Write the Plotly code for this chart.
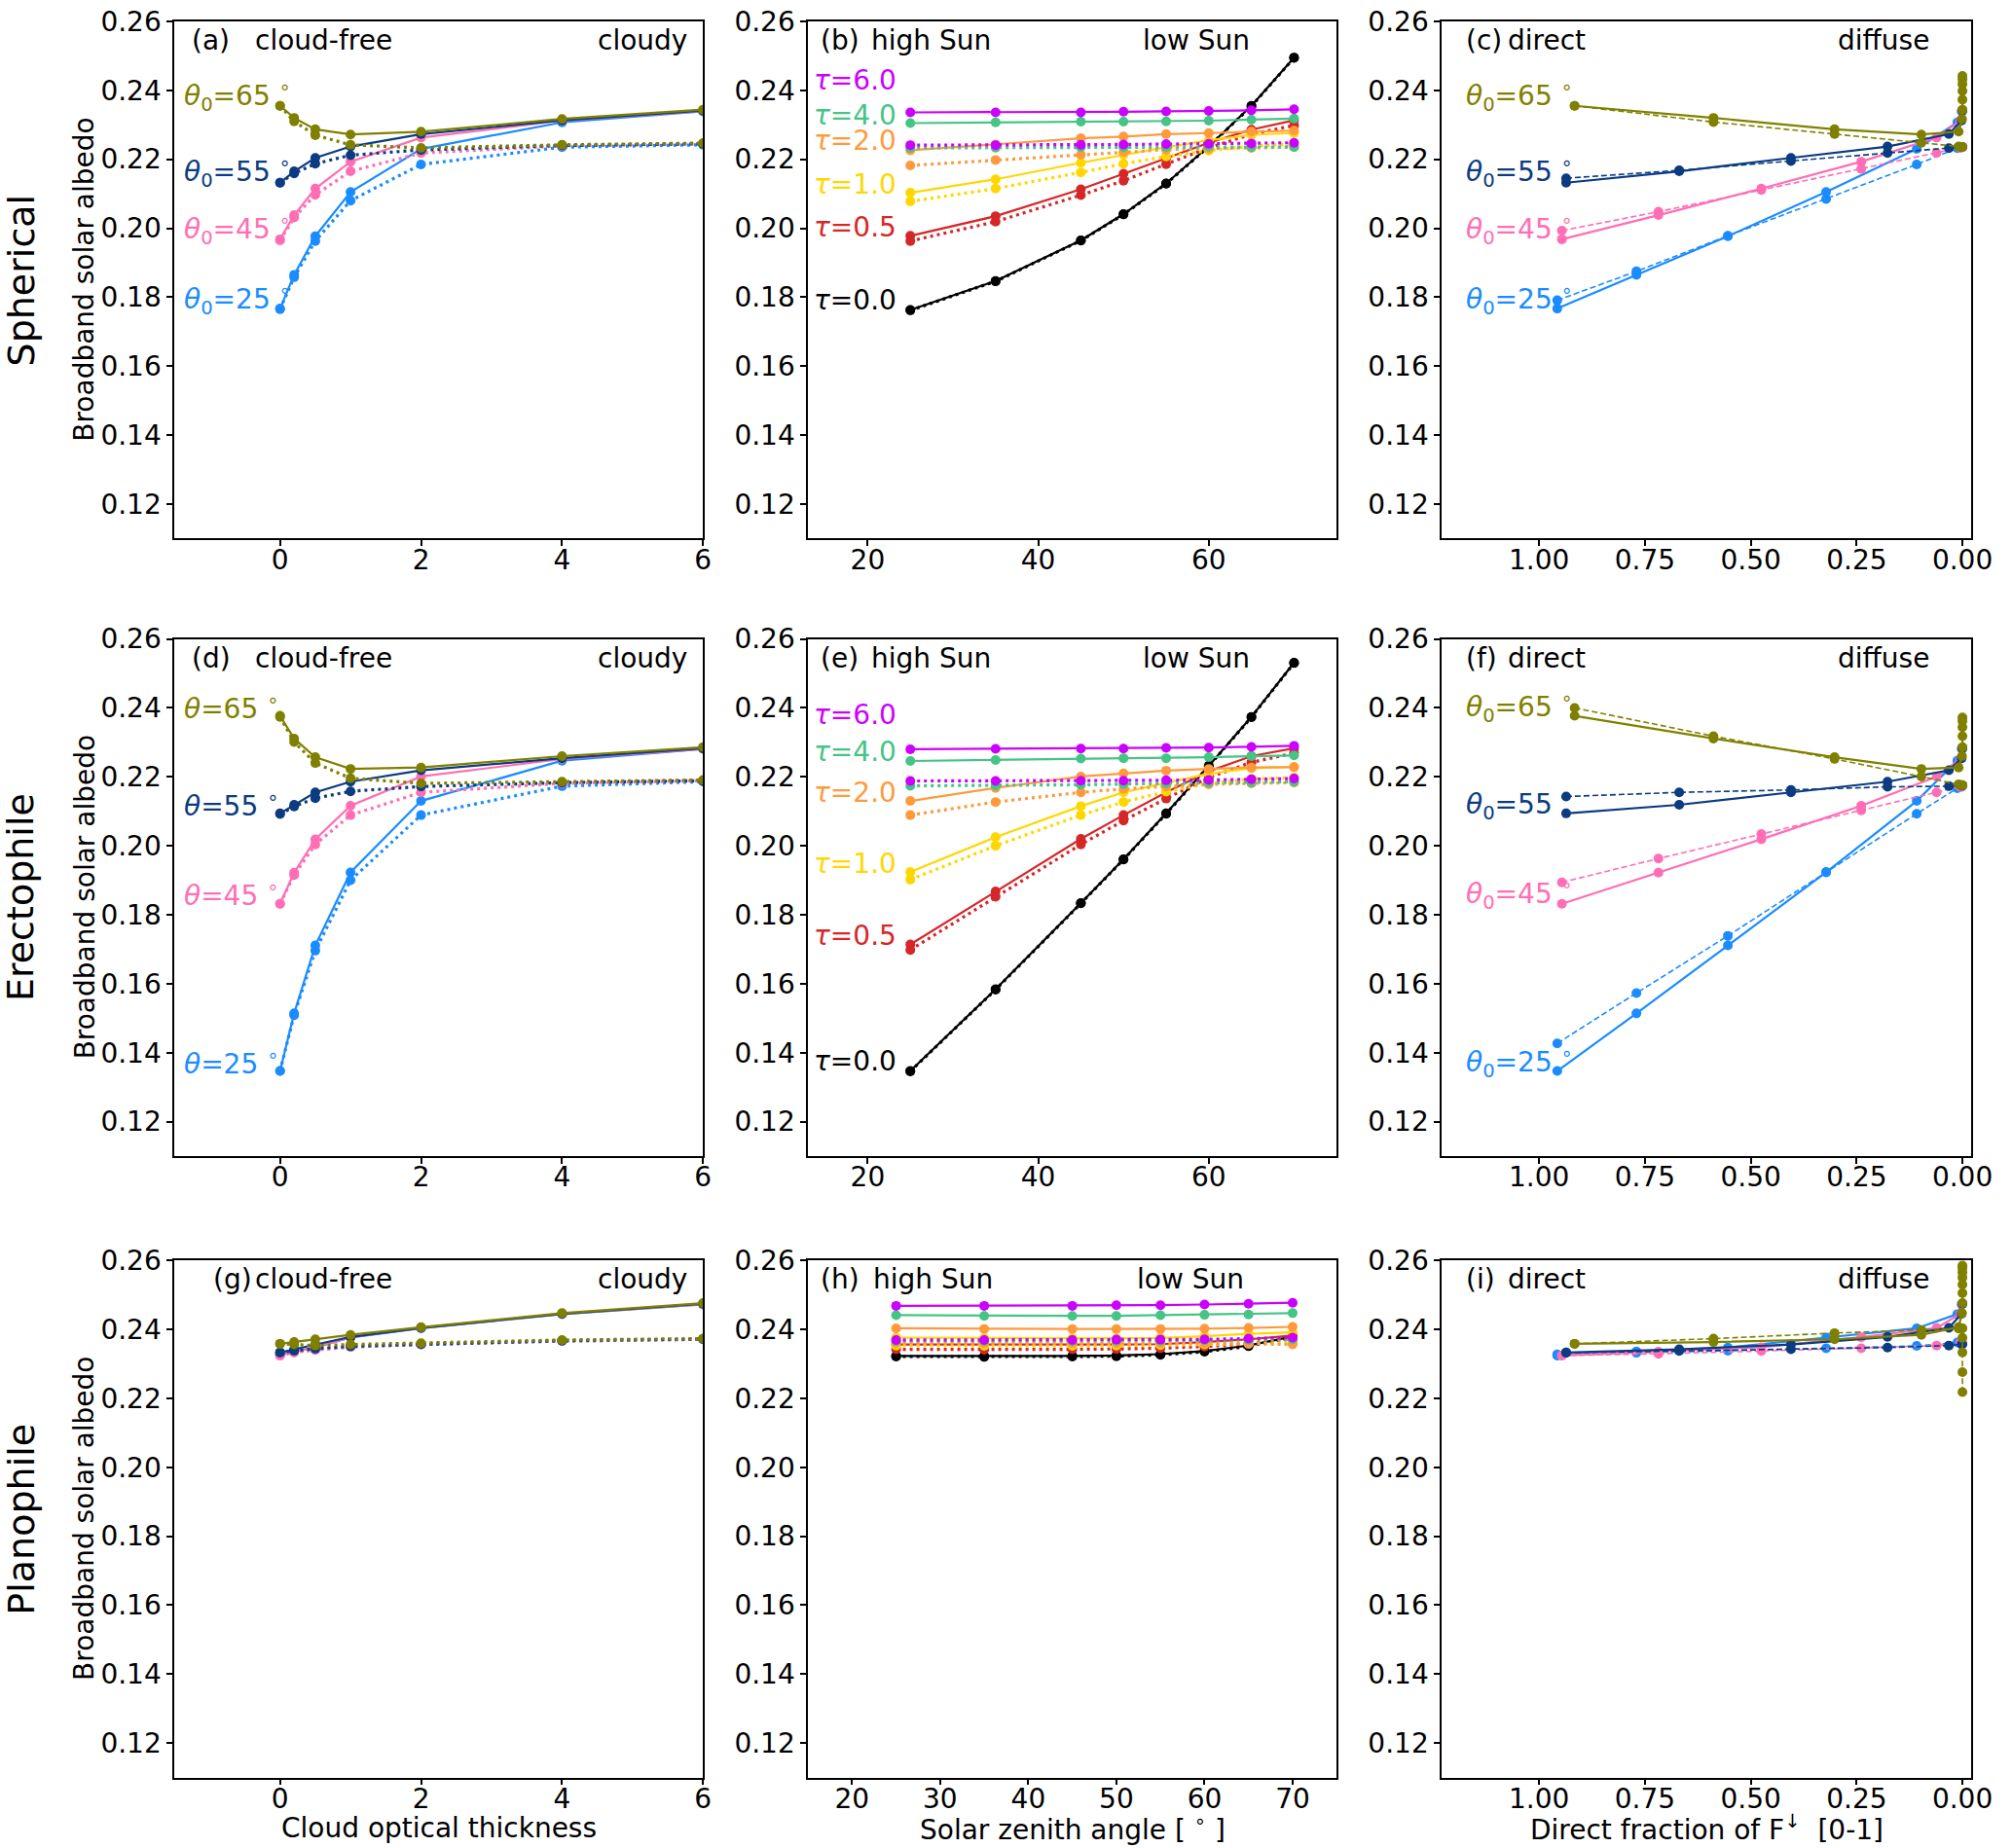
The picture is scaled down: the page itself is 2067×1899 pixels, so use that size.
import plotly.graph_objects as go

FONT = "DejaVu Sans"

# ---------------- data ----------------
cot = [0, 0.2, 0.5, 1, 2, 4, 6]                 # cloud optical thickness
sza = [25, 35, 45, 50, 55, 60, 65, 70]          # solar zenith angle
theta0 = [25, 45, 55, 65]
taus = ["0.0", "0.5", "1.0", "2.0", "4.0", "6.0"]

# direct fraction of downwelling flux for each theta0 at the cot values
dirfrac = {
    25: [0.957, 0.770, 0.554, 0.322, 0.108, 0.012, 0.002],
    45: [0.946, 0.718, 0.475, 0.239, 0.061, 0.005, 0.001],
    55: [0.936, 0.669, 0.405, 0.177, 0.032, 0.002, 0.0],
    65: [0.916, 0.588, 0.302, 0.097, 0.009, 0.001, 0.0],
}

# --- Spherical ---
sph_cot_solid = {
    25: [0.1767, 0.1865, 0.1977, 0.2105, 0.2230, 0.2307, 0.2339],
    45: [0.1968, 0.2038, 0.2115, 0.2193, 0.2263, 0.2312, 0.2340],
    55: [0.2132, 0.2165, 0.2204, 0.2237, 0.2273, 0.2313, 0.2341],
    65: [0.2355, 0.2320, 0.2287, 0.2272, 0.2280, 0.2317, 0.2344],
}
sph_cot_dot = {
    25: [0.1765, 0.1858, 0.1963, 0.2080, 0.2185, 0.2235, 0.2242],
    45: [0.1965, 0.2031, 0.2097, 0.2165, 0.2218, 0.2239, 0.2245],
    55: [0.2132, 0.2159, 0.2187, 0.2212, 0.2227, 0.2240, 0.2245],
    65: [0.2355, 0.2310, 0.2270, 0.2242, 0.2233, 0.2242, 0.2247],
}
sph_frac_dash = {
    25: [0.1791, 0.1875, 0.1978, 0.2085, 0.2185, 0.2232, 0.2235],
    45: [0.1993, 0.2048, 0.2111, 0.2172, 0.2218, 0.2233, 0.2235],
    55: [0.2145, 0.2168, 0.2195, 0.2218, 0.2232, 0.2235, 0.2236],
    65: [0.2355, 0.2308, 0.2273, 0.2248, 0.2237, 0.2236, 0.2236],
}
sph_stack_solid = {65: [0.2373, 0.2398, 0.2418, 0.2432, 0.2442]}
sph_stack_dash = {}
sph_sza_solid = {
    "6.0": [0.2336, 0.2336, 0.2336, 0.2338, 0.2339, 0.2340, 0.2342, 0.2345],
    "4.0": [0.2305, 0.2307, 0.2309, 0.2309, 0.2310, 0.2312, 0.2315, 0.2318],
    "2.0": [0.2226, 0.2243, 0.2261, 0.2266, 0.2273, 0.2276, 0.2280, 0.2283],
    "1.0": [0.2103, 0.2142, 0.2190, 0.2213, 0.2235, 0.2255, 0.2271, 0.2276],
    "0.5": [0.1978, 0.2035, 0.2113, 0.2158, 0.2203, 0.2248, 0.2286, 0.2313],
    "0.0": [0.1763, 0.1847, 0.1965, 0.2041, 0.2130, 0.2238, 0.2355, 0.2495],
}
sph_sza_dot = {
    "6.0": [0.2241, 0.2241, 0.2242, 0.2243, 0.2244, 0.2245, 0.2246, 0.2248],
    "4.0": [0.2233, 0.2234, 0.2235, 0.2235, 0.2236, 0.2237, 0.2236, 0.2236],
    "2.0": [0.2182, 0.2198, 0.2213, 0.2221, 0.2228, 0.2231, 0.2233, 0.2235],
    "1.0": [0.2078, 0.2115, 0.2162, 0.2187, 0.2208, 0.2225, 0.2238, 0.2245],
    "0.5": [0.1963, 0.2019, 0.2096, 0.2138, 0.2186, 0.2233, 0.2273, 0.2298],
    "0.0": [0.1762, 0.1846, 0.1964, 0.2040, 0.2129, 0.2237, 0.2354, 0.2494],
}

# --- Erectophile ---
ere_cot_solid = {
    25: [0.1347, 0.1514, 0.1711, 0.1923, 0.2130, 0.2247, 0.2281],
    45: [0.1832, 0.1922, 0.2019, 0.2116, 0.2201, 0.2252, 0.2281],
    55: [0.2094, 0.2119, 0.2155, 0.2186, 0.2219, 0.2254, 0.2283],
    65: [0.2377, 0.2311, 0.2257, 0.2223, 0.2227, 0.2260, 0.2286],
}
ere_cot_dot = {
    25: [0.1347, 0.1509, 0.1696, 0.1900, 0.2089, 0.2173, 0.2186],
    45: [0.1832, 0.1915, 0.2004, 0.2089, 0.2155, 0.2181, 0.2189],
    55: [0.2092, 0.2114, 0.2138, 0.2158, 0.2172, 0.2183, 0.2189],
    65: [0.2374, 0.2301, 0.2240, 0.2196, 0.2181, 0.2186, 0.2191],
}
ere_frac_dash = {
    25: [0.1427, 0.1573, 0.1739, 0.1924, 0.2093, 0.2167, 0.2171],
    45: [0.1894, 0.1963, 0.2034, 0.2103, 0.2155, 0.2171, 0.2173],
    55: [0.2143, 0.2155, 0.2162, 0.2171, 0.2173, 0.2175, 0.2175],
    65: [0.2400, 0.2318, 0.2252, 0.2201, 0.2178, 0.2176, 0.2176],
}
ere_stack_solid = {65: [0.2318, 0.2344, 0.2362, 0.2372]}
ere_stack_dash = {}
ere_sza_solid = {
    "6.0": [0.2280, 0.2281, 0.2282, 0.2282, 0.2284, 0.2285, 0.2287, 0.2290],
    "4.0": [0.2246, 0.2249, 0.2253, 0.2254, 0.2254, 0.2257, 0.2260, 0.2262],
    "2.0": [0.2130, 0.2168, 0.2201, 0.2210, 0.2218, 0.2223, 0.2227, 0.2228],
    "1.0": [0.1924, 0.2025, 0.2115, 0.2155, 0.2183, 0.2209, 0.2225, 0.2229],
    "0.5": [0.1714, 0.1868, 0.2020, 0.2089, 0.2155, 0.2216, 0.2260, 0.2283],
    "0.0": [0.1347, 0.1584, 0.1834, 0.1961, 0.2094, 0.2232, 0.2374, 0.2531],
}
ere_sza_dot = {
    "6.0": [0.2188, 0.2188, 0.2189, 0.2189, 0.2190, 0.2191, 0.2193, 0.2195],
    "4.0": [0.2174, 0.2175, 0.2177, 0.2179, 0.2181, 0.2183, 0.2184, 0.2186],
    "2.0": [0.2089, 0.2127, 0.2155, 0.2165, 0.2172, 0.2178, 0.2181, 0.2183],
    "1.0": [0.1902, 0.2000, 0.2089, 0.2127, 0.2157, 0.2181, 0.2194, 0.2198],
    "0.5": [0.1698, 0.1852, 0.2004, 0.2073, 0.2137, 0.2198, 0.2242, 0.2269],
    "0.0": [0.1346, 0.1583, 0.1833, 0.1960, 0.2093, 0.2231, 0.2373, 0.2530],
}

# --- Planophile ---
pla_cot_solid = {
    25: [0.2327, 0.2336, 0.2347, 0.2376, 0.2403, 0.2444, 0.2472],
    45: [0.2324, 0.2335, 0.2348, 0.2377, 0.2404, 0.2445, 0.2473],
    55: [0.2333, 0.2342, 0.2356, 0.2378, 0.2404, 0.2445, 0.2474],
    65: [0.2358, 0.2363, 0.2371, 0.2384, 0.2406, 0.2447, 0.2476],
}
pla_cot_dot = {
    25: [0.2327, 0.2334, 0.2341, 0.2349, 0.2356, 0.2366, 0.2371],
    45: [0.2324, 0.2333, 0.2340, 0.2349, 0.2356, 0.2366, 0.2371],
    55: [0.2333, 0.2338, 0.2344, 0.2351, 0.2357, 0.2367, 0.2372],
    65: [0.2358, 0.2356, 0.2353, 0.2356, 0.2360, 0.2369, 0.2373],
}
pla_frac_dash = {
    25: [0.2324, 0.2332, 0.2338, 0.2345, 0.2352, 0.2362, 0.2363],
    45: [0.2324, 0.2329, 0.2337, 0.2345, 0.2353, 0.2362, 0.2363],
    55: [0.2332, 0.2337, 0.2342, 0.2347, 0.2353, 0.2356, 0.2357],
    65: [0.2358, 0.2373, 0.2389, 0.2398, 0.2402, 0.2403, 0.2403],
}
pla_stack_solid = {65: [0.2505, 0.2530, 0.2550, 0.2566, 0.2578, 0.2585]}
pla_stack_dash = {65: [0.2375, 0.2333, 0.2276, 0.2218]}
pla_sza_solid = {
    "6.0": [0.2468, 0.2468, 0.2468, 0.2470, 0.2470, 0.2472, 0.2474, 0.2477],
    "4.0": [0.2441, 0.2439, 0.2439, 0.2439, 0.2441, 0.2442, 0.2443, 0.2447],
    "2.0": [0.2403, 0.2401, 0.2401, 0.2401, 0.2401, 0.2402, 0.2404, 0.2407],
    "1.0": [0.2376, 0.2374, 0.2374, 0.2374, 0.2375, 0.2380, 0.2387, 0.2391],
    "0.5": [0.2356, 0.2355, 0.2356, 0.2356, 0.2357, 0.2363, 0.2371, 0.2382],
    "0.0": [0.2323, 0.2322, 0.2323, 0.2324, 0.2328, 0.2337, 0.2353, 0.2379],
}
pla_sza_dot = {
    "6.0": [0.2369, 0.2369, 0.2369, 0.2370, 0.2370, 0.2371, 0.2373, 0.2376],
    "4.0": [0.2366, 0.2366, 0.2366, 0.2367, 0.2367, 0.2368, 0.2369, 0.2371],
    "2.0": [0.2361, 0.2360, 0.2360, 0.2360, 0.2360, 0.2360, 0.2358, 0.2356],
    "1.0": [0.2353, 0.2352, 0.2352, 0.2353, 0.2354, 0.2356, 0.2359, 0.2361],
    "0.5": [0.2342, 0.2341, 0.2342, 0.2343, 0.2345, 0.2350, 0.2358, 0.2372],
    "0.0": [0.2321, 0.2320, 0.2321, 0.2322, 0.2326, 0.2335, 0.2351, 0.2377],
}

row_names = ["Spherical", "Erectophile", "Planophile"]
rows = [
    (sph_cot_solid, sph_cot_dot, sph_frac_dash, sph_stack_solid, sph_stack_dash, sph_sza_solid, sph_sza_dot),
    (ere_cot_solid, ere_cot_dot, ere_frac_dash, ere_stack_solid, ere_stack_dash, ere_sza_solid, ere_sza_dot),
    (pla_cot_solid, pla_cot_dot, pla_frac_dash, pla_stack_solid, pla_stack_dash, pla_sza_solid, pla_sza_dot),
]

# ---------------- styling ----------------
theta_colors = {25: "#1a8cff", 45: "#ff6eb4", 55: "#0b3b80", 65: "#808000"}
tau_colors = {"0.0": "black", "0.5": "#d62728", "1.0": "#ffd700",
              "2.0": "#ff9a3c", "4.0": "#45c485", "6.0": "#cc00ff"}
DASH = {"solid": "solid", "dot": "3px,4px", "dash": "6px,3px"}

W, H = 2067, 1899
col_px = [(181, 730), (839, 1388), (1497, 2047)]
row_px = [(6, 542), (646, 1182), (1290, 1826)]


def ax(k):
    # plotly names the first axis 'x' / 'y', the others 'x2', 'y2', ...
    return "" if k == 1 else str(k)


fig = go.Figure()


def add_line(k, x, y, color, style, width=2.2, size=10):
    fig.add_trace(go.Scatter(
        x=x, y=y, mode="lines+markers", xaxis="x" + ax(k), yaxis="y" + ax(k),
        line=dict(color=color, width=width, dash=DASH[style]),
        marker=dict(color=color, size=size),
        showlegend=False, hoverinfo="skip"))


for r, (cs, cd, fd, ss, sd, zs, zd) in enumerate(rows):
    ka, kb, kc = r * 3 + 1, r * 3 + 2, r * 3 + 3
    for th in theta0:
        col = theta_colors[th]
        # cloud optical thickness panel
        add_line(ka, cot, cd[th], col, "dot", width=3.2)
        add_line(ka, cot, cs[th], col, "solid")
        # direct fraction panel
        xs = dirfrac[th] + [0.0] * len(ss.get(th, []))
        xd = dirfrac[th] + [0.0] * len(sd.get(th, []))
        add_line(kc, xd, fd[th] + sd.get(th, []), col, "dash", width=1.6)
        add_line(kc, xs, cs[th] + ss.get(th, []), col, "solid")
    for t in taus:
        add_line(kb, sza, zd[t], tau_colors[t], "dot", width=3.2)
        add_line(kb, sza, zs[t], tau_colors[t], "solid")

# ---------------- axes ----------------
axis_common = dict(showline=True, mirror=True, linecolor="black", linewidth=1.5,
                   ticks="outside", ticklen=6, tickwidth=1.5, tickcolor="black",
                   showgrid=False, zeroline=False,
                   tickfont=dict(family=FONT, size=28, color="black"))
yticks = [0.12, 0.14, 0.16, 0.18, 0.20, 0.22, 0.24, 0.26]
layout_axes = {}
for r in range(3):
    for c in range(3):
        k = r * 3 + c + 1
        x0, x1 = col_px[c]
        y0, y1 = row_px[r]
        if c == 0:
            xr, xt, xtt = [-1.5, 6], [0, 2, 4, 6], ["0", "2", "4", "6"]
        elif c == 1:
            if r < 2:
                xr, xt = [13, 75], [20, 40, 60]
            else:
                xr, xt = [15, 75], [20, 30, 40, 50, 60, 70]
            xtt = [str(v) for v in xt]
        else:
            xr, xt = [1.23, -0.021], [1.0, 0.75, 0.5, 0.25, 0.0]
            xtt = [f"{v:.2f}" for v in xt]
        layout_axes["xaxis" + ax(k)] = dict(axis_common, domain=[x0 / W, x1 / W], anchor="y" + ax(k),
                                            range=xr, tickvals=xt, ticktext=xtt,
                                            ticklabelstandoff=-10)
        layout_axes["yaxis" + ax(k)] = dict(axis_common, domain=[1 - y1 / H, 1 - y0 / H], anchor="x" + ax(k),
                                            range=[0.11, 0.26], tickvals=yticks,
                                            ticktext=[f"{v:.2f}" for v in yticks])
fig.update_layout(**layout_axes)

# ---------------- annotations ----------------
ann = []


def text(s, x, y, xref, yref, size=28, color="black", xanchor="left", angle=0):
    ann.append(dict(text=s, x=x, y=y, xref=xref, yref=yref, showarrow=False,
                    xanchor=xanchor, yanchor="middle", textangle=angle,
                    font=dict(family=FONT, size=size, color=color)))


letters = "abcdefghi"
for r in range(3):
    ka, kb, kc = r * 3 + 1, r * 3 + 2, r * 3 + 3
    yh = 0.963
    xa, ya = f"x{ax(ka)} domain", f"y{ax(ka)} domain"
    xb, yb = f"x{ax(kb)} domain", f"y{ax(kb)} domain"
    xc, yc = f"x{ax(kc)} domain", f"y{ax(kc)} domain"
    # column 1 header
    text(f"({letters[r * 3]})", 0.069 if r == 2 else 0.029, yh, xa, ya)
    text("cloud-free", 0.149, yh, xa, ya)
    text("cloudy", 0.973, yh, xa, ya, xanchor="right")
    # column 2 header
    text(f"({letters[r * 3 + 1]})", 0.02, yh, xb, yb)
    text("high Sun", 0.119 if r == 2 else 0.115, yh, xb, yb)
    text("low Sun", 0.619 if r == 2 else 0.63, yh, xb, yb)
    # column 3 header
    text(f"({letters[r * 3 + 2]})", 0.043, yh, xc, yc)
    text("direct", 0.122, yh, xc, yc)
    text("diffuse", 0.745, yh, xc, yc)

# curve labels
theta_label_y = [{65: 0.2385, 55: 0.2163, 45: 0.1997, 25: 0.1795},
                 {65: 0.2403, 55: 0.2121, 45: 0.1862, 25: 0.1373}]
tau_label_y = [{"6.0": 0.2430, "4.0": 0.2328, "2.0": 0.2253, "1.0": 0.2128, "0.5": 0.2003, "0.0": 0.1790},
               {"6.0": 0.2380, "4.0": 0.2272, "2.0": 0.2155, "1.0": 0.1948, "0.5": 0.1739, "0.0": 0.1375}]
for r in range(2):
    ka, kb, kc = r * 3 + 1, r * 3 + 2, r * 3 + 3
    for th in theta0:
        sub = "<sub>0</sub>" if r == 0 else ""
        text(f"<i>θ</i>{sub}={th} <sup>∘</sup>", 0.0146, theta_label_y[r][th],
             f"x{ax(ka)} domain", f"y{ax(ka)}", color=theta_colors[th])
        text(f"<i>θ</i><sub>0</sub>={th} <sup>∘</sup>", 0.043, theta_label_y[r][th],
             f"x{ax(kc)} domain", f"y{ax(kc)}", color=theta_colors[th])
    for t in taus:
        text(f"<i>τ</i>={t}", 0.0066, tau_label_y[r][t], f"x{ax(kb)} domain", f"y{ax(kb)}",
             color=tau_colors[t])

# y titles and row names
for r in range(3):
    ycen = 1 - (row_px[r][0] + row_px[r][1]) / 2 / H
    text("Broadband solar albedo", 88 / W, ycen, "paper", "paper", xanchor="center", angle=-90)
    text(row_names[r], 22 / W, ycen, "paper", "paper", size=38, xanchor="center", angle=-90)

# x titles
xt_y = 1 - 1878 / H
text("Cloud optical thickness", (col_px[0][0] + col_px[0][1]) / 2 / W, xt_y, "paper", "paper", xanchor="center")
text("Solar zenith angle [ <sup>∘</sup> ]", (col_px[1][0] + col_px[1][1]) / 2 / W, xt_y, "paper", "paper", xanchor="center")
text("Direct fraction of F<sup>↓</sup>  [0-1]", (col_px[2][0] + col_px[2][1]) / 2 / W, xt_y, "paper", "paper", xanchor="center")

fig.update_layout(
    annotations=ann,
    width=W, height=H,
    margin=dict(l=0, r=0, t=0, b=0),
    paper_bgcolor="white", plot_bgcolor="white",
    font=dict(family=FONT, size=28, color="black"),
)

# drop the default page margin so the figure sits at the window's top-left corner
fig.write_html("out.html", config={"displayModeBar": False},
               post_script="document.body.style.margin='0px';document.body.style.overflow='hidden';")
